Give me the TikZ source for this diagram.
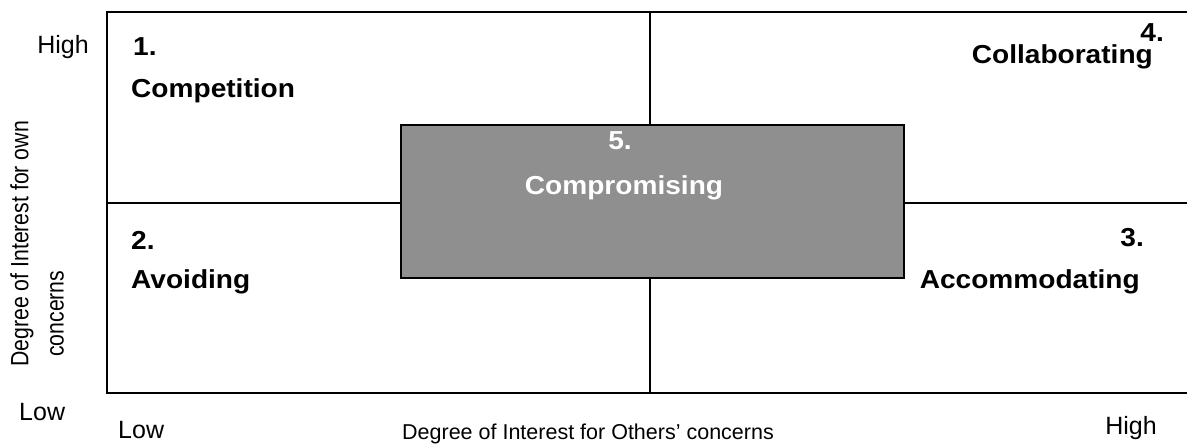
\documentclass[tikz,border=0pt]{standalone}
\usepackage{fontspec}
\setmainfont{Liberation Sans}
\newfontfamily\narrowfont[FakeStretch=0.85]{Liberation Sans}
\newfontfamily\quadfont[FakeStretch=1.08]{Liberation Sans}
\definecolor{boxgray}{HTML}{8F8F8F}
\begin{document}
\begin{tikzpicture}[x=1pt,y=-1pt,
  frame/.style={line width=2pt,black},
  quad/.style={font=\quadfont\fontsize{26}{30}\selectfont\bfseries,inner sep=0pt},
  axis/.style={font=\fontsize{25}{29}\selectfont,inner sep=0pt},
  sidelabel/.style={font=\narrowfont\fontsize{25}{30}\selectfont,inner sep=0pt,rotate=90}]
\useasboundingbox (0,0) rectangle (1187,446);
% grid corners
\coordinate (tl) at (107,12);
\coordinate (bl) at (107,393);
\coordinate (tr) at (1190,12);
\coordinate (br) at (1190,393);
\coordinate (midtop) at (650,12);
\coordinate (midbot) at (650,393);
\coordinate (midleft) at (107,203);
\coordinate (midright) at (1190,203);
% outer frame and quadrant dividers
\draw[frame] (tr) -- (tl) -- (bl) -- (br);
\draw[frame] (midtop) -- (midbot);
\draw[frame] (midleft) -- (midright);
% central compromise box
\node[draw=black,line width=2pt,fill=boxgray,minimum width=503pt,minimum height=153pt,inner sep=0pt,anchor=north west] (comp) at (400,124) {};
\node[quad,text=white] (n5) at (620,141) {5.};
\node[quad,text=white] (t5) at (624,188) {Compromising};
% quadrant labels
\node[quad,anchor=west] (n1) at (133,47) {1.};
\node[quad,anchor=west] (t1) at (131,91) {Competition};
\node[quad,anchor=east] (n4) at (1164,33) {4.};
\node[quad,anchor=east] (t4) at (1153,57) {Collaborating};
\node[quad,anchor=west] (n2) at (131,240) {2.};
\node[quad,anchor=west] (t2) at (131,282) {Avoiding};
\node[quad,anchor=east] (n3) at (1144,238) {3.};
\node[quad,anchor=east] (t3) at (1140,282) {Accommodating};
% axis labels
\node[axis,anchor=east] (yhigh) at (89,47) {High};
\node[axis,anchor=west] (ylow) at (19,412) {Low};
\node[axis,anchor=west] (xlow) at (118,430) {Low};
\node[axis,anchor=east] (xhigh) at (1157,428) {High};
\node[axis,font=\fontsize{21.5}{26}\selectfont] (xtitle) at (588,434) {Degree of Interest for Others’ concerns};
\node[sidelabel,anchor=west] (ytitle1) at (22,367) {Degree of Interest for own};
\node[sidelabel,anchor=west] (ytitle2) at (57,357) {concerns};
\end{tikzpicture}
\end{document}
